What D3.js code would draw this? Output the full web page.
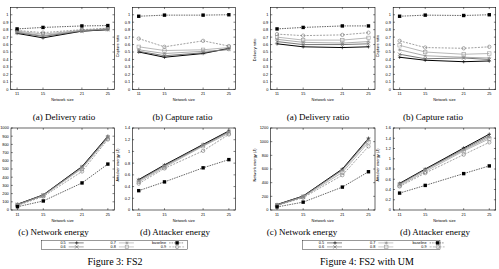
<!DOCTYPE html>
<html>
<head>
<meta charset="utf-8">
<script src="https://cdn.jsdelivr.net/npm/d3@7"></script>
<style>
  body { margin: 0; background: #fff; }
  svg { display: block; }
</style>
</head>
<body>
<svg width="499" height="269"></svg>
<script>
const sizes = [11, 15, 21, 25];
const seriesNames = ["0.5", "0.6", "0.7", "0.8", "0.9", "baseline"];

// Figure 3: FS2  (rows follow seriesNames)
const fs2Delivery = [
  [0.75, 0.69, 0.78, 0.80],
  [0.76, 0.71, 0.78, 0.80],
  [0.77, 0.72, 0.79, 0.81],
  [0.78, 0.74, 0.79, 0.81],
  [0.79, 0.76, 0.80, 0.82],
  [0.81, 0.83, 0.85, 0.855]
];
const fs2Capture = [
  [0.50, 0.43, 0.48, 0.55],
  [0.51, 0.45, 0.49, 0.54],
  [0.53, 0.48, 0.51, 0.53],
  [0.57, 0.52, 0.53, 0.56],
  [0.68, 0.57, 0.65, 0.58],
  [0.98, 0.995, 0.995, 1.0]
];
const fs2NetEnergy = [
  [70, 185, 530, 900],
  [68, 182, 525, 890],
  [65, 180, 515, 885],
  [62, 175, 505, 875],
  [55, 165, 470, 860],
  [40, 110, 330, 560]
];
const fs2AttEnergy = [
  [0.52, 0.77, 1.12, 1.35],
  [0.51, 0.76, 1.11, 1.34],
  [0.50, 0.75, 1.10, 1.33],
  [0.48, 0.73, 1.09, 1.31],
  [0.45, 0.71, 1.01, 1.29],
  [0.33, 0.48, 0.72, 0.86]
];

// Figure 4: FS2 with UM
const umDelivery = [
  [0.61, 0.57, 0.56, 0.57],
  [0.64, 0.60, 0.60, 0.61],
  [0.67, 0.63, 0.62, 0.64],
  [0.70, 0.66, 0.66, 0.69],
  [0.74, 0.72, 0.73, 0.76],
  [0.81, 0.83, 0.85, 0.85]
];
const umCapture = [
  [0.43, 0.39, 0.37, 0.38],
  [0.47, 0.41, 0.42, 0.40],
  [0.53, 0.45, 0.43, 0.42],
  [0.59, 0.50, 0.47, 0.48],
  [0.65, 0.56, 0.55, 0.57],
  [0.98, 0.995, 0.99, 1.0]
];
const umNetEnergy = [
  [80, 205, 600, 1050],
  [78, 200, 590, 1040],
  [75, 198, 580, 1020],
  [70, 190, 550, 990],
  [65, 180, 510, 930],
  [45, 115, 335, 560]
];
const umAttEnergy = [
  [0.52, 0.80, 1.21, 1.48],
  [0.51, 0.79, 1.19, 1.45],
  [0.50, 0.78, 1.17, 1.42],
  [0.48, 0.75, 1.15, 1.39],
  [0.46, 0.72, 1.08, 1.32],
  [0.33, 0.48, 0.71, 0.86]
];

const ratioTicks = [0, 0.1, 0.2, 0.3, 0.4, 0.5, 0.6, 0.7, 0.8, 0.9, 1];
const fs2NetTicks = [0, 100, 200, 300, 400, 500, 600, 700, 800, 900, 1000];
const fs2AttTicks = [0, 0.2, 0.4, 0.6, 0.8, 1, 1.2, 1.4];
const umNetTicks = [0, 200, 400, 600, 800, 1000, 1200];
const umAttTicks = [0, 0.2, 0.4, 0.6, 0.8, 1, 1.2, 1.4, 1.6];

// line / point styles (gnuplot-ish monochrome)
const styles = {
  "0.5":      {color: "#000", dash: null,  width: 1.0, mark: "plus"},
  "0.6":      {color: "#555", dash: null,  width: 0.8, mark: "cross"},
  "0.7":      {color: "#888", dash: null,  width: 0.7, mark: "star"},
  "0.8":      {color: "#999", dash: null,  width: 0.7, mark: "square"},
  "0.9":      {color: "#777", dash: "2,1.3", width: 0.7, mark: "circle"},
  "baseline": {color: "#222", dash: "1.5,1", width: 0.7, mark: "fsquare"}
};

const svg = d3.select("svg");
const tickFont = "Liberation Sans, Arial, sans-serif";
const serif = "Liberation Serif, Times New Roman, serif";

function drawMark(g, type, x, y, color) {
  const r = 1.7;
  if (type === "plus") {
    g.append("path").attr("d", `M${x-r},${y}H${x+r}M${x},${y-r}V${y+r}`)
      .attr("stroke", color).attr("stroke-width", 0.6).attr("fill", "none");
  } else if (type === "cross") {
    g.append("path").attr("d", `M${x-r},${y-r}L${x+r},${y+r}M${x-r},${y+r}L${x+r},${y-r}`)
      .attr("stroke", color).attr("stroke-width", 0.6).attr("fill", "none");
  } else if (type === "star") {
    g.append("path").attr("d", `M${x-r},${y}H${x+r}M${x},${y-r}V${y+r}M${x-r*0.7},${y-r*0.7}L${x+r*0.7},${y+r*0.7}M${x-r*0.7},${y+r*0.7}L${x+r*0.7},${y-r*0.7}`)
      .attr("stroke", color).attr("stroke-width", 0.5).attr("fill", "none");
  } else if (type === "square") {
    g.append("rect").attr("x", x-r).attr("y", y-r).attr("width", 2*r).attr("height", 2*r)
      .attr("stroke", color).attr("stroke-width", 0.6).attr("fill", "none");
  } else if (type === "fsquare") {
    g.append("rect").attr("x", x-r).attr("y", y-r).attr("width", 2*r).attr("height", 2*r)
      .attr("fill", "#000");
  } else if (type === "circle") {
    g.append("circle").attr("cx", x).attr("cy", y).attr("r", r)
      .attr("stroke", color).attr("stroke-width", 0.6).attr("fill", "none");
  }
}

const panels = [
  {data: fs2Delivery, x0: 10.6, x1: 114.3, top: 7.3, bottom: 89.3, ymax: 1.1, ticks: ratioTicks,
   ylabel: null, caption: "(a) Delivery ratio", capX: 64, capY: 120},
  {data: fs2Capture, x0: 132.3, x1: 235.3, top: 7.3, bottom: 89.3, ymax: 1.1, ticks: ratioTicks,
   ylabel: "Capture ratio", ylx: 118.5, yly: 46, caption: "(b) Capture ratio", capX: 182.5, capY: 120},
  {data: fs2NetEnergy, x0: 11, x1: 114.3, top: 128, bottom: 210, ymax: 1000, ticks: fs2NetTicks,
   ylabel: null, caption: "(c) Network energy", capX: 53.5, capY: 234.8},
  {data: fs2AttEnergy, x0: 132.3, x1: 235.3, top: 128, bottom: 210, ymax: 1.4, ticks: fs2AttTicks,
   ylabel: "Attacker energy (J)", ylx: 118.5, yly: 165, caption: "(d) Attacker energy", capX: 175, capY: 234.8},
  {data: umDelivery, x0: 270.5, x1: 375, top: 7.3, bottom: 89.3, ymax: 1.1, ticks: ratioTicks,
   ylabel: "Delivery ratio", ylx: 256, yly: 50, caption: "(a) Delivery ratio", capX: 318, capY: 120},
  {data: umCapture, x0: 393.2, x1: 495.7, top: 7.3, bottom: 89.3, ymax: 1.1, ticks: ratioTicks,
   ylabel: "Capture ratio", ylx: 379, yly: 46, caption: "(b) Capture ratio", capX: 433, capY: 120},
  {data: umNetEnergy, x0: 270.5, x1: 375, top: 128, bottom: 210, ymax: 1200, ticks: umNetTicks,
   ylabel: "Network energy (J)", ylx: 256, yly: 165, caption: "(c) Network energy", capX: 302, capY: 234.8},
  {data: umAttEnergy, x0: 393.2, x1: 495.7, top: 128, bottom: 210, ymax: 1.6, ticks: umAttTicks,
   ylabel: "Attacker energy (J)", ylx: 379, yly: 165, caption: "(d) Attacker energy", capX: 435, capY: 234.8}
];

panels.forEach(function(p) {
  const g = svg.append("g");
  const x = d3.scaleLinear().domain([10, 26]).range([p.x0, p.x1]);
  const y = d3.scaleLinear().domain([0, p.ymax]).range([p.bottom, p.top]);
  const tl = 1.8;

  // frame
  g.append("rect").attr("x", p.x0).attr("y", p.top)
    .attr("width", p.x1 - p.x0).attr("height", p.bottom - p.top)
    .attr("fill", "none").attr("stroke", "#000").attr("stroke-width", 0.6);

  // y ticks (inside, mirrored)
  p.ticks.forEach(function(t) {
    g.append("path").attr("d", `M${p.x0},${y(t)}h${tl}M${p.x1},${y(t)}h${-tl}`)
      .attr("stroke", "#000").attr("stroke-width", 0.5);
    g.append("text").attr("x", p.x0 - 2.2).attr("y", y(t) + 1.4)
      .attr("text-anchor", "end").attr("font-family", tickFont).attr("font-size", 3.9)
      .text(String(t));
  });
  // x ticks
  sizes.forEach(function(s) {
    g.append("path").attr("d", `M${x(s)},${p.bottom}v${-tl}M${x(s)},${p.top}v${tl}`)
      .attr("stroke", "#000").attr("stroke-width", 0.5);
    g.append("text").attr("x", x(s)).attr("y", p.bottom + 5.7)
      .attr("text-anchor", "middle").attr("font-family", tickFont).attr("font-size", 3.9)
      .text(s);
  });
  g.append("text").attr("x", (p.x0 + p.x1) / 2).attr("y", p.bottom + 11.8)
    .attr("text-anchor", "middle").attr("font-family", tickFont).attr("font-size", 3.9)
    .text("Network size");
  if (p.ylabel) {
    g.append("text").attr("transform", `translate(${p.ylx},${p.yly}) rotate(-90)`)
      .attr("text-anchor", "middle").attr("font-family", tickFont).attr("font-size", 3.9)
      .text(p.ylabel);
  }

  // series
  const line = d3.line().x((d, i) => x(sizes[i])).y(d => y(d));
  p.data.forEach(function(vals, k) {
    const st = styles[seriesNames[k]];
    g.append("path").datum(vals).attr("d", line)
      .attr("fill", "none").attr("stroke", st.color).attr("stroke-width", st.width)
      .attr("stroke-dasharray", st.dash);
    vals.forEach(function(v, i) { drawMark(g, st.mark, x(sizes[i]), y(v), st.color); });
  });

  g.append("text").attr("x", p.capX).attr("y", p.capY)
    .attr("text-anchor", "middle").attr("font-family", serif).attr("font-size", 9)
    .text(p.caption);
});

// legends
const legendOrder = [["0.5", "0.6"], ["0.7", "0.8"], ["baseline", "0.9"]];
const legends = [
  {left: 41.7, right: 187.3, textEnd: 65.7, colW: 50.2},
  {left: 302.3, right: 440, textEnd: 324, colW: 51.3}
];
legends.forEach(function(L) {
  const g = svg.append("g");
  g.append("rect").attr("x", L.left).attr("y", 240.7).attr("width", L.right - L.left).attr("height", 8.6)
    .attr("fill", "none").attr("stroke", "#000").attr("stroke-width", 0.4);
  legendOrder.forEach(function(col, c) {
    col.forEach(function(name, r) {
      const st = styles[name];
      const ty = 242.9 + r * 4;
      const tx = L.textEnd + c * L.colW;
      g.append("text").attr("x", tx).attr("y", ty + 1.3).attr("text-anchor", "end")
        .attr("font-family", tickFont).attr("font-size", 3.8).text(name);
      g.append("path").attr("d", `M${tx + 3},${ty}H${tx + 18}`)
        .attr("stroke", st.color).attr("stroke-width", 0.5).attr("stroke-dasharray", st.dash);
      drawMark(g, st.mark, tx + 11, ty, st.color);
    });
  });
});

svg.append("text").attr("x", 115).attr("y", 265).attr("text-anchor", "middle")
  .attr("font-family", serif).attr("font-size", 10).text("Figure 3: FS2");
svg.append("text").attr("x", 367).attr("y", 265).attr("text-anchor", "middle")
  .attr("font-family", serif).attr("font-size", 10).text("Figure 4: FS2 with UM");
</script>
</body>
</html>
